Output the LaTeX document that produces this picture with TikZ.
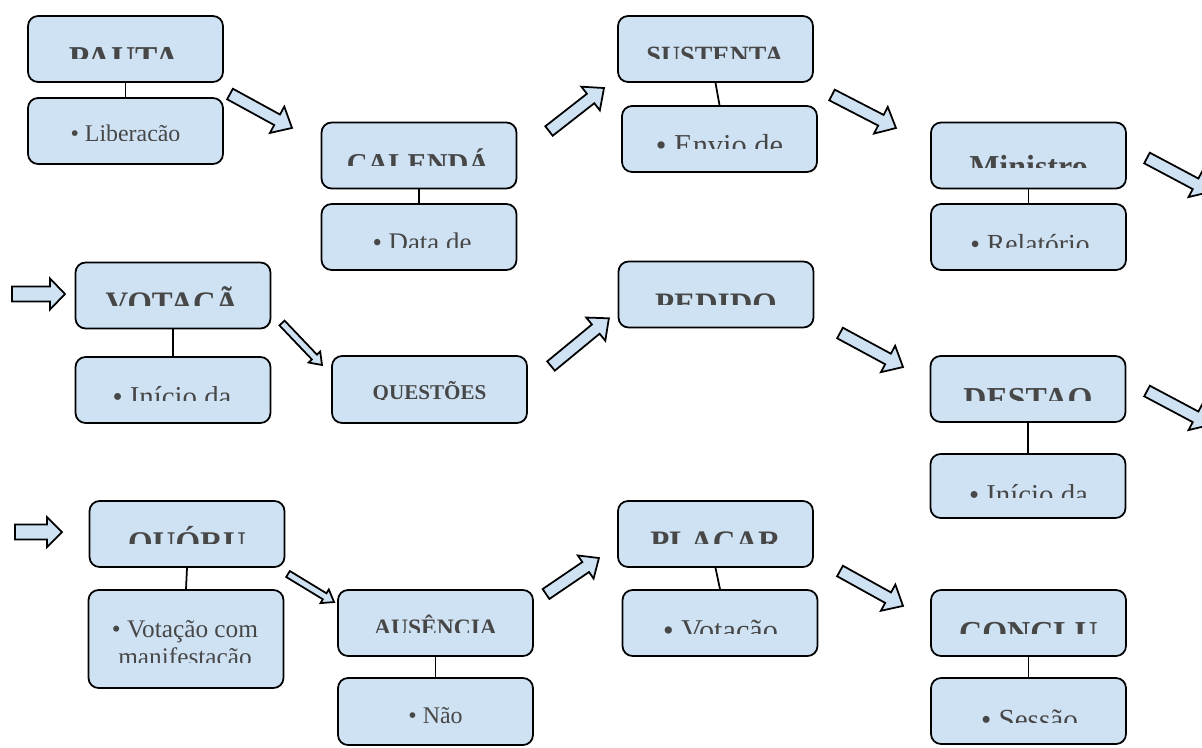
\documentclass[tikz,border=0pt]{standalone}
\usepackage{fontspec}
\setmainfont{Liberation Serif}
\usetikzlibrary{calc}

\definecolor{boxblue}{HTML}{CFE2F3}
\definecolor{labelgray}{HTML}{474747}

% 見出し・本文のフォント
\newcommand{\hdrfont}[1]{\fontsize{#1pt}{#1pt}\selectfont\bfseries}
\newcommand{\detfont}[1]{\fontsize{#1pt}{#1pt}\selectfont}

% 下端で切れたラベル（名前, x, ベースライン, 切り取り位置, フォント, 文字）
\newcommand{\cutlabel}[6]{%
  \begin{scope}
    \clip (#2-97,#4-80) rectangle (#2+97,#4);
    \node [labeltext, font={#5}] (#1) at (#2,#3) {#6};
  \end{scope}}

% ブロック矢印（x, y, 角度, 長さ, 軸の半幅, 頭の半幅, 頭の長さ）
\newcommand{\blockarrow}[7]{%
  \draw [arrowbody, shift={(#1,#2)}, rotate=#3]
    (0,-#5) -- (#4-#7,-#5) -- (#4-#7,-#6) -- (#4,0)
    -- (#4-#7,#6) -- (#4-#7,#5) -- (0,#5) -- cycle;}

\begin{document}
\begin{tikzpicture}[
    x=0.02cm, y=-0.02cm,    % 座標はピクセル単位
    stagebox/.style={
        draw=black, line width=1pt, fill=boxblue,
        rounded corners=0.2cm,
        minimum width=3.9cm, minimum height=1.32cm,
        inner sep=0pt
    },
    labeltext/.style={anchor=base, inner sep=0pt, text=labelgray},
    link/.style={line width=1pt},
    arrowbody/.style={draw=black, line width=1pt, fill=boxblue, line join=miter}
]
    \useasboundingbox (0,0) rectangle (1202,747);
    \clip (0,0) rectangle (1202,747);

    % --- 1. 上段 ---
    \node [stagebox] (hdr_pauta) at (125.5,49) {};
    \node [stagebox] (det_pauta) at (125.5,131) {};
    \node [stagebox] (hdr_cal) at (419,155.5) {};
    \node [stagebox] (det_cal) at (419,237) {};
    \node [stagebox] (hdr_sus) at (715.5,49) {};
    \node [stagebox] (det_sus) at (719.5,139) {};
    \node [stagebox] (hdr_min) at (1028.5,155.5) {};
    \node [stagebox] (det_min) at (1028.5,237) {};

    % --- 2. 中段 ---
    \node [stagebox] (hdr_vot) at (173,295.5) {};
    \node [stagebox] (det_vot) at (173,390) {};
    \node [stagebox, minimum height=1.34cm] (hdr_que) at (429.5,389.5) {};
    \node [stagebox] (hdr_ped) at (716,294.5) {};
    \node [stagebox] (hdr_des) at (1028,389) {};
    \node [stagebox, minimum height=1.28cm] (det_des) at (1028,486) {};

    % --- 3. 下段 ---
    \node [stagebox] (hdr_quo) at (187,534) {};
    \node [stagebox, minimum height=1.96cm] (det_quo) at (186,639) {};
    \node [stagebox] (hdr_aus) at (435.5,623) {};
    \node [stagebox, minimum height=1.34cm] (det_aus) at (435.5,711.5) {};
    \node [stagebox] (hdr_pla) at (715.5,534) {};
    \node [stagebox] (det_pla) at (720,623) {};
    \node [stagebox] (hdr_con) at (1028.5,623) {};
    \node [stagebox] (det_con) at (1028.5,711) {};

    % 見出しと詳細をつなぐ縦線
    \foreach \s in {pauta, cal, sus, min, vot, des, quo, aus, pla, con}
        \draw [link] (hdr_\s.south) -- (det_\s.north);

    % --- 4. 見出しラベル（下半分が切れている） ---
    \cutlabel{t_pauta}{124}{69}{58}{\hdrfont{19}}{PAUTA}
    \cutlabel{t_cal}{418}{173}{165}{\hdrfont{16.4}}{CALENDÁ}
    \cutlabel{t_sus}{715}{64.5}{58}{\hdrfont{15}}{SUSTENTA}
    \cutlabel{t_min}{1028.5}{177}{167}{\hdrfont{18.2}}{Ministro}
    \cutlabel{t_vot}{172}{313.5}{305}{\hdrfont{17.8}}{VOTAÇÃ}
    \cutlabel{t_que}{429.5}{399}{399.5}{\hdrfont{12}}{QUESTÕES}
    \cutlabel{t_ped}{716}{314}{304}{\hdrfont{17.8}}{PEDIDO}
    \cutlabel{t_des}{1028}{409}{400}{\hdrfont{18.2}}{DESTAQ}
    \cutlabel{t_quo}{187}{553}{543}{\hdrfont{18}}{QUÓRU}
    \cutlabel{t_aus}{435.5}{635.4}{632}{\hdrfont{13.4}}{AUSÊNCIA}
    \cutlabel{t_pla}{715.5}{552.5}{543}{\hdrfont{17.8}}{PLACAR}
    \cutlabel{t_con}{1028.5}{643}{633}{\hdrfont{18.2}}{CONCLU}

    % --- 5. 詳細ラベル ---
    \cutlabel{s_pauta}{125.5}{141}{140}{\detfont{13.6}}{• Liberação}
    \cutlabel{s_cal}{422}{251}{247}{\detfont{15.3}}{• Data de}
    \cutlabel{s_sus}{719.5}{155}{148}{\detfont{17.3}}{• Envio de}
    \cutlabel{s_min}{1030}{253}{247}{\detfont{15.7}}{• Relatório}
    \cutlabel{s_vot}{172}{406}{400}{\detfont{16.4}}{• Início da}
    \cutlabel{s_des}{1028.5}{504}{497}{\detfont{16.4}}{• Início da}
    \cutlabel{s_quo1}{185}{637}{662}{\detfont{14.4}}{• Votação com}
    \cutlabel{s_quo2}{185}{665}{662}{\detfont{14.4}}{manifestação}
    \cutlabel{s_aus}{435.5}{723}{745}{\detfont{13.6}}{• Não}
    \cutlabel{s_pla}{720.5}{640}{633}{\detfont{17.2}}{• Votação}
    \cutlabel{s_con}{1029.5}{729}{722}{\detfont{16.6}}{• Sessão}

    % --- 6. ブロック矢印 ---
    \blockarrow{230}{94}{-28.7}{70.7}{6}{15}{17}
    \blockarrow{549}{131}{38}{69.8}{6}{15}{17}
    \blockarrow{832}{95}{-27.3}{72}{6}{15}{17}
    \blockarrow{1147}{158}{-28}{72}{6}{15}{17}
    \blockarrow{12}{294}{0}{53}{7.5}{15.5}{15}
    \blockarrow{282}{323}{-46.4}{58}{3.5}{8}{11}
    \blockarrow{551}{366}{39.5}{75}{6}{15}{17}
    \blockarrow{840}{333}{-28.4}{71.6}{6}{15}{17}
    \blockarrow{1147}{391}{-28}{72}{6}{15}{17}
    \blockarrow{15}{532}{0}{47}{7.5}{15}{15}
    \blockarrow{288}{574}{-31.3}{53.9}{3.5}{8}{11}
    \blockarrow{546}{594}{34.2}{64}{6}{14}{16}
    \blockarrow{840}{571}{-29}{72}{6}{15}{17}

\end{tikzpicture}
\end{document}
